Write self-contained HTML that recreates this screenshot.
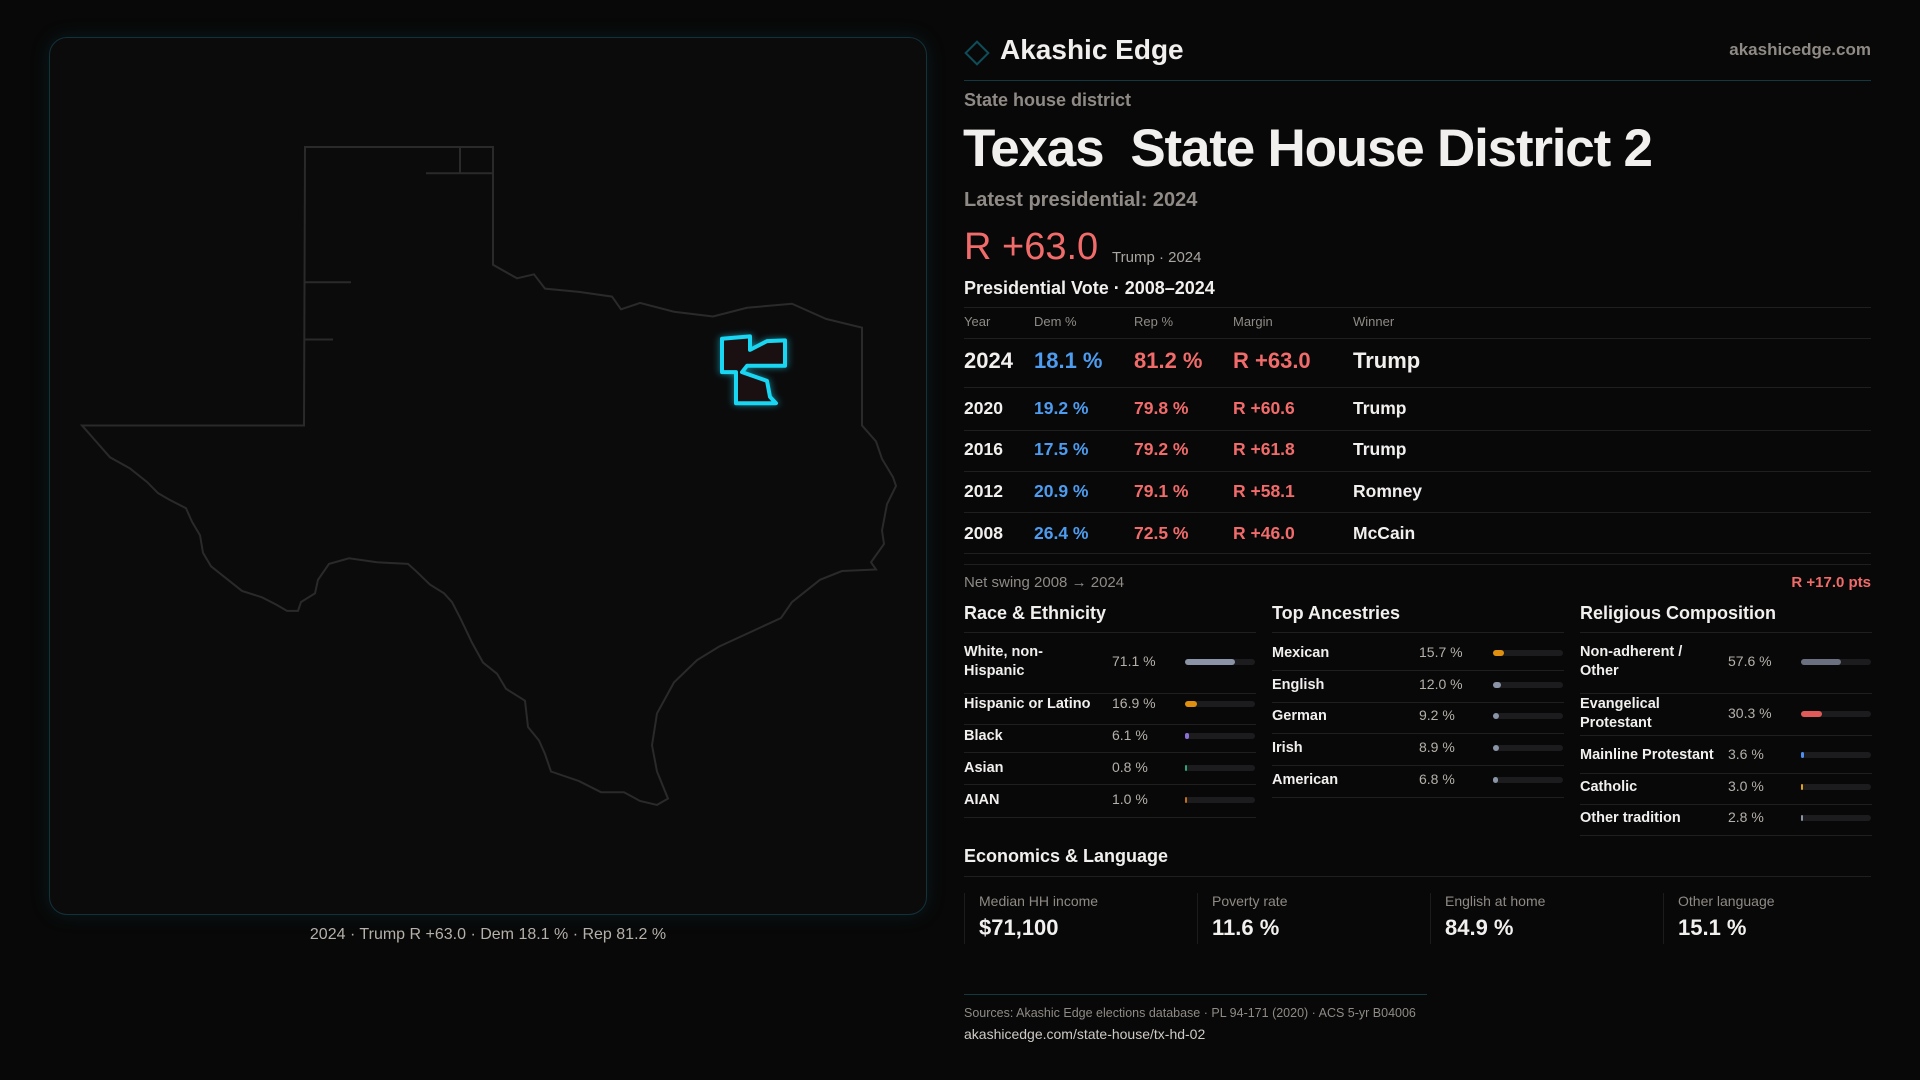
<!DOCTYPE html>
<html><head><meta charset="utf-8">
<style>
*{margin:0;padding:0;box-sizing:border-box}
body{width:1920px;height:1080px;background:#080808;font-family:"Liberation Sans",sans-serif;color:#f2f0ee;position:relative;overflow:hidden}
.a{position:absolute;white-space:nowrap}
.g{color:#8f8a85}
.hl{position:absolute;height:1px;background:#1f1f1f}
.bar{position:absolute;height:6px;border-radius:3px;background:#1c1c1e}
.fill{position:absolute;left:0;top:0;height:6px;border-radius:3px}
</style></head><body>
<div class="a" style="left:49px;top:37px;width:878px;height:878px;border:1px solid #12323a;border-radius:18px;background:#0b0b0c;box-shadow:0 0 18px rgba(20,80,95,0.25)">
</div>
<svg class="a" style="left:0;top:0" width="1920" height="1080">
<g transform="matrix(1 0 0 0.7955 0 24.54)">
<path vector-effect="non-scaling-stroke" fill="none" stroke="#2a2a2b" stroke-width="2" d="M305,154 L493,154 L493,302 L517,319 L534,314 L545,332 L579,336 L612,342 L621,358 L640,350 L674,361 L713,367 L747,356 L792,351 L826,370 L862,381 L862,504 L876,524 L882,546 L893,569 L896,580 L887,603 L882,636 L884,653 L871,676 L876,685 L842,687 L820,698 L792,726 L781,746 L719,782 L697,799 L674,827 L657,866 L652,906 L657,939 L668,973 L657,981 L640,976 L624,965 L601,965 L579,951 L551,939 L545,917 L539,900 L528,883 L525,850 L506,835 L497,816 L483,802 L472,777 L461,748 L452,726 L444,715 L430,704 L416,687 L408,678 L377,676 L349,671 L329,678 L318,698 L315,715 L301,726 L298,737 L287,737 L276,729 L262,720 L242,712 L234,704 L211,681 L203,664 L200,642 L192,625 L186,608 L169,597 L158,589 L147,575 L130,558 L110,544 L96,524 L82,504 L304,504 Z M304,324 L351,324 M304,396 L333,396 M426,187 L493,187 M460,154 L460,187"/>
<path vector-effect="non-scaling-stroke" fill="#1a1012" stroke="#19d6f2" stroke-width="4" stroke-linejoin="round" style="filter:drop-shadow(0 0 4px rgba(25,214,242,0.6))" d="M722,395 L750,392 L750,409 L767,398 L785,397 L785,429 L747,429 L742,437 L767,448 L770,468 L776,476 L736,476 L736,437 L722,437 Z"/>
</g>
</svg>
<div class="a g" style="left:49px;width:878px;text-align:center;top:926px;font-size:16px;color:#b5b0aa">2024 · Trump R +63.0 · Dem 18.1 % · Rep 81.2 %</div>

<div class="a" style="left:968px;top:44px;width:18px;height:18px;border:2px solid #0f4d5a;transform:rotate(45deg)"></div>
<div class="a" style="left:1000px;top:34px;font-size:28px;font-weight:bold">Akashic Edge</div>
<div class="a g" style="right:49px;top:40px;font-size:17px;font-weight:bold">akashicedge.com</div>
<div class="hl" style="left:964px;width:907px;top:80px;background:#123840"></div>
<div class="a g" style="left:964px;top:90px;font-size:18px;font-weight:bold">State house district</div>
<div class="a" style="left:963px;top:118px;font-size:53px;font-weight:bold;letter-spacing:-1.2px">Texas&nbsp; State House District 2</div>
<div class="a g" style="left:964px;top:189px;font-size:20px;font-weight:bold">Latest presidential: 2024</div>
<div class="a" style="left:964px;top:226px;font-size:38px;color:#f26b6b">R +63.0</div>
<div class="a g" style="left:1112px;top:249px;font-size:15px;color:#aaa5a0">Trump · 2024</div>
<div class="a" style="left:964px;top:278px;font-size:18px;font-weight:bold">Presidential Vote · 2008–2024</div>
<div class="a g" style="left:964px;top:574px;font-size:15px">Net swing 2008 → 2024</div>
<div class="a" style="right:49px;top:574px;font-size:15px;color:#f26b6b;font-weight:bold">R +17.0 pts</div>

<div class="a" style="left:964px;top:846px;font-size:18px;font-weight:bold">Economics &amp; Language</div>
<div class="hl" style="left:964px;width:907px;top:876px"></div>
<div class="hl" style="left:964px;width:463px;top:994px;background:#123840"></div>
<div class="a g" style="left:964px;top:1006px;font-size:12.5px">Sources: Akashic Edge elections database · PL 94-171 (2020) · ACS 5-yr B04006</div>
<div class="a" style="left:964px;top:1026px;font-size:14px;color:#cfcac5">akashicedge.com/state-house/tx-hd-02</div>

<script>
const years=[2024,2020,2016,2012,2008];
const demPct=[18.1,19.2,17.5,20.9,26.4];
const repPct=[81.2,79.8,79.2,79.1,72.5];
const margins=[63.0,60.6,61.8,58.1,46.0];
const winners=["Trump","Trump","Trump","Romney","McCain"];
const raceLabels=["White, non-<br>Hispanic","Hispanic or Latino","Black","Asian","AIAN"];
const raceValues=[71.1,16.9,6.1,0.8,1.0];
const raceColors=["#8a94a6","#e0900f","#8b6fd6","#2fa37a","#c0701a"];
const ancLabels=["Mexican","English","German","Irish","American"];
const ancValues=[15.7,12.0,9.2,8.9,6.8];
const ancColors=["#e0900f","#8a94a6","#8a94a6","#8a94a6","#8a94a6"];
const relLabels=["Non-adherent /<br>Other","Evangelical<br>Protestant","Mainline Protestant","Catholic","Other tradition"];
const relValues=[57.6,30.3,3.6,3.0,2.8];
const relColors=["#6b7080","#e05a5a","#4d8ef0","#e0a020","#8a94a6"];
const econLabels=["Median HH income","Poverty rate","English at home","Other language"];
const econValues=["$71,100","11.6 %","84.9 %","15.1 %"];

function mk(tag,name,inter,style,html){const e=document.createElement(tag);


e.className='a';e.style.cssText=style;if(html!==undefined)e.innerHTML=html;document.body.appendChild(e);return e;}
function line(name,x,w,y){const e=mk('div',name,'false','left:'+x+'px;width:'+w+'px;top:'+y+'px');e.className='hl';}

const cols=[964,1034,1134,1233,1353];
line('table-top-rule',964,907,307);
["Year","Dem %","Rep %","Margin","Winner"].forEach((h,i)=>mk('div','col-header-'+h.toLowerCase().replace(/[^a-z]/g,''),'false','left:'+cols[i]+'px;top:314px;font-size:13px;color:#8f8a85',h));
line('table-header-rule',964,907,338);
const rowY=[361,408,449,491,533];
const ruleY=[387,430,471,512,553];
years.forEach((y,i)=>{
 const fs=i==0?22:17.5;
 const t=rowY[i]-fs*0.58;
 const m=margins[i];
 const st='top:'+t+'px;font-size:'+fs+'px;font-weight:bold;';
 mk('div','year-'+y,'false','left:'+cols[0]+'px;'+st,String(y));
 mk('div','dem-pct-'+y,'false','left:'+cols[1]+'px;'+st+'color:#4d9cf0',demPct[i].toFixed(1)+' %');
 mk('div','rep-pct-'+y,'false','left:'+cols[2]+'px;'+st+'color:#f26b6b',repPct[i].toFixed(1)+' %');
 mk('div','margin-'+y,'false','left:'+cols[3]+'px;'+st+'color:#f26b6b',(m>=0?'R +':'D +')+Math.abs(m).toFixed(1));
 mk('div','winner-'+y,'false','left:'+cols[4]+'px;'+st,winners[i]);
 line('row-rule-'+y,964,907,ruleY[i]);
});
line('table-bottom-rule',964,907,564);

function section(key,title,x,labels,values,colors,rowsY,rulesY,valX,barX){
 mk('div',key+'-heading','false','left:'+x+'px;top:603px;font-size:18px;font-weight:bold',title);
 line(key+'-heading-rule',x,292,632);
 labels.forEach((l,i)=>{
  const two=l.indexOf('<br>')>=0;
  mk('div',key+'-label-'+i,'false','left:'+x+'px;top:'+(rowsY[i]-(two?19:9))+'px;font-size:14.5px;font-weight:bold;line-height:19px;white-space:normal',l);
  mk('div',key+'-value-'+i,'false','left:'+valX+'px;top:'+(rowsY[i]-9)+'px;font-size:14px;color:#b5b0aa',values[i].toFixed(1)+' %');
  const b=mk('div',key+'-bar-track-'+i,'false','left:'+barX+'px;top:'+(rowsY[i]-3)+'px;width:70px');b.className='bar';
  const f=document.createElement('div');
  
  
  f.className='fill';f.style.width=Math.max(2,values[i]/100*70)+'px';f.style.background=colors[i];b.appendChild(f);
  line(key+'-row-rule-'+i,x,292,rulesY[i]);
 });
}
section('race','Race & Ethnicity',964,raceLabels,raceValues,raceColors,[662,704,736,768,800],[693,724,752,784,817],1112,1185);
section('ancestry','Top Ancestries',1272,ancLabels,ancValues,ancColors,[653,685,716,748,780],[670,702,733,765,797],1419,1493);
section('religion','Religious Composition',1580,relLabels,relValues,relColors,[662,714,755,787,818],[693,735,773,804,835],1728,1801);

econLabels.forEach((l,i)=>{
 const x=964+i*233;
 mk('div','econ-divider-'+i,'false','left:'+x+'px;top:893px;width:1px;height:51px;background:#1c1c1c');
 mk('div','econ-label-'+i,'false','left:'+(x+15)+'px;top:893px;font-size:14px;color:#8f8a85',l);
 mk('div','econ-value-'+i,'false','left:'+(x+15)+'px;top:915px;font-size:22px;font-weight:bold',econValues[i]);
});
</script>
</body></html>
